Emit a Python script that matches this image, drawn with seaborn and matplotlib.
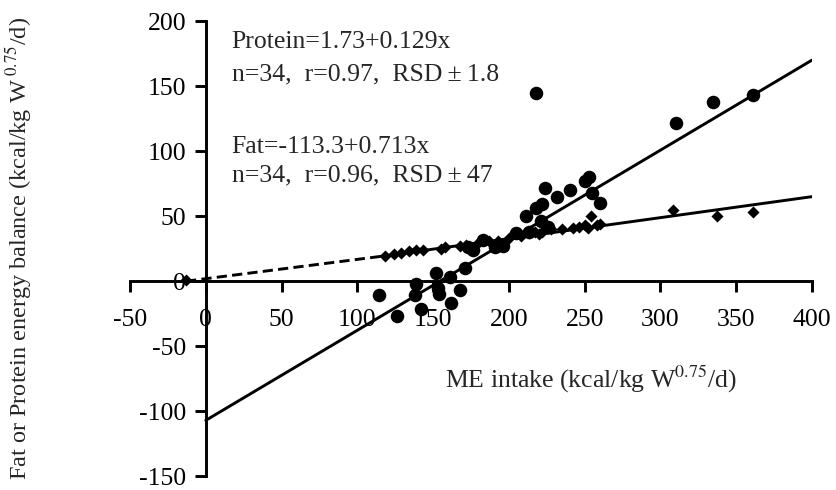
import matplotlib
matplotlib.use("Agg")
import matplotlib.pyplot as plt
import pandas as pd
import seaborn as sns

# Fat energy balance (circles)
fat_x = [114, 126, 138, 139, 142, 152, 153, 154, 161, 162, 168, 171, 173, 176,
         183, 191, 196, 205, 211, 213, 218, 218, 221, 222, 224, 226, 232, 240,
         250, 253, 255, 260, 310, 335, 361]
fat_y = [-11, -27, -11, -2, -21, 6, -5, -10, 3, -17, -7, 10, 26, 24,
         32, 26, 27, 37, 50, 38, 56, 145, 46, 59, 72, 42, 65, 70,
         77, 80, 68, 60, 122, 138, 143]

# Protein energy balance (diamonds)
prot_x = [-13, 118, 124, 129, 134, 139, 143, 155, 158, 168, 172, 180, 187, 193,
          195, 200, 208, 213, 217, 220, 222, 228, 235, 242, 246, 250, 252, 254,
          258, 260, 308, 337, 361]
prot_y = [1, 19, 21, 22, 23, 24, 24, 25, 26, 27, 28, 30, 31, 31,
          28, 33, 35, 37, 38, 36, 38, 40, 40, 41, 42, 43, 41, 50,
          43, 44, 55, 50, 53]

# fitted lines (end points)
fat_line_x = [0, 400]
fat_line_y = [-107, 170]
prot_line_x = [115, 400]
prot_line_y = [19, 65]
prot_dash_x = [-13, 115]
prot_dash_y = [0, 19]

sns.set_style("white")
plt.rcParams["font.family"] = ["Liberation Serif", "DejaVu Serif"]
plt.rcParams["mathtext.fontset"] = "stix"
plt.rcParams["axes.unicode_minus"] = False
fs = 18.5

fig = plt.figure(figsize=(8.36, 4.9), dpi=100)
ax = fig.add_axes([0.1555, 0.028, 0.8158, 0.929])

lw = 2.1
sns.lineplot(x=fat_line_x, y=fat_line_y, ax=ax, color="black", lw=lw)
sns.lineplot(x=prot_line_x, y=prot_line_y, ax=ax, color="black", lw=lw)
sns.lineplot(x=prot_dash_x, y=prot_dash_y, ax=ax, color="black", lw=lw,
             linestyle=(0, (3.5, 1.8)))

sns.scatterplot(x=fat_x, y=fat_y, ax=ax, color="black", marker="o", s=95,
                linewidth=0, zorder=3)
sns.scatterplot(x=prot_x, y=prot_y, ax=ax, color="black", marker="D", s=38,
                linewidth=0, zorder=3)

ax.set_xlim(-50, 400)
ax.set_ylim(-150, 200)
ax.set_xticks(range(-50, 401, 50))
ax.set_yticks(range(-150, 201, 50))

for s in ["top", "right"]:
    ax.spines[s].set_visible(False)
ax.spines["left"].set_position(("data", 0))
ax.spines["bottom"].set_position(("data", 0))
for s in ["left", "bottom"]:
    ax.spines[s].set_linewidth(2.1)
    ax.spines[s].set_color("black")

ax.tick_params(axis="both", direction="out", length=8, width=2.1,
               colors="black", labelsize=fs)
ax.tick_params(axis="x", pad=12, bottom=True)
ax.tick_params(axis="y", pad=6, left=True)

ax.set_ylabel("Fat or Protein energy balance (kcal/kg W$^{\\ 0.75}$/d)",
              fontsize=17.5, va="center")
ax.yaxis.set_label_coords(-0.164, 0.5)
ax.set_xlabel("ME intake (kcal/kg W$^{0.75}$/d)", fontsize=fs, va="center")
ax.xaxis.set_label_coords(0.676, 0.213)

ax.text(17, 184, "Protein=1.73+0.129x", fontsize=fs, va="center", ha="left")
ax.text(17, 159, "n=34,  r=0.97,  RSD\u2009±\u20091.8", fontsize=fs,
        va="center", ha="left")
ax.text(17, 103, "Fat=-113.3+0.713x", fontsize=fs, va="center", ha="left")
ax.text(17, 81, "n=34,  r=0.96,  RSD\u2009±\u200947", fontsize=fs,
        va="center", ha="left")

fig.savefig("out.png", dpi=100)
